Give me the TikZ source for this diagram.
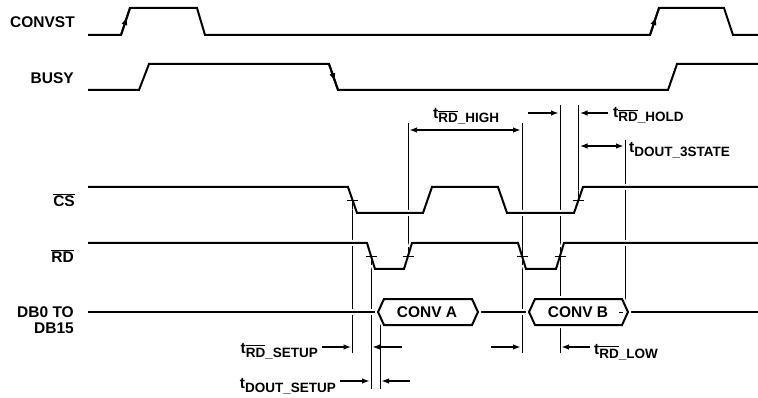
\documentclass[tikz,border=0pt]{standalone}
\usepackage{fontspec}
\setmainfont{Liberation Sans}
\usetikzlibrary{arrows.meta,decorations.markings}
\tikzset{>={Latex[length=8pt,width=5.5pt]}}
\newcommand{\ovl}[1]{\leavevmode\vbox{\hrule height 1.2pt\kern1.4pt\hbox{#1}}}
\newcommand{\tsub}[1]{t\raisebox{-4pt}{\fontsize{13.5}{14}\selectfont #1}}
\tikzset{
	sig/.style={line width=2pt, preaction={draw=white, line width=6pt}},
	guide/.style={line width=0.9pt},
	tickmark/.style={line width=0.9pt},
	meas/.style={line width=1.8pt},
	edgearrow/.style={line width=2pt, decoration={markings,
		mark=at position 0.7 with {\arrow{Latex[length=9pt,width=6pt]}}}, postaction={decorate}},
	lbl/.style={font=\fontsize{15.5}{17}\selectfont\bfseries, inner sep=0pt},
}

\begin{document}
\begin{tikzpicture}[x=1pt, y=-1pt]
	\useasboundingbox (0,0) rectangle (758,398);
	% crossing points on the edges
	\coordinate (cs1) at (352.5,200);
	\coordinate (cs2) at (578.5,200);
	\coordinate (rd1) at (371,256);
	\coordinate (rd2) at (408,256);
	\coordinate (rd3) at (522,256);
	\coordinate (rd4) at (560,256);
	\coordinate (dv) at (380,317);
	\coordinate (dz) at (625,305);
	% guide lines
	\draw[guide] (cs1) -- ++(0,153);
	\draw[guide] (rd1) -- ++(0,133);
	\draw[guide] (dv) -- (380,389);
	\draw[guide] (rd2) -- (408,123);
	\draw[guide] (522,123) -- (522,353);
	\draw[guide] (560,105) -- (560,353);
	\draw[guide] (cs2) -- (578.5,105);
	\draw[guide] (625,140) -- (dz);
	% signals
	\draw[sig] (88,35)--(121,35)--(130,8)--(197,8)--(205,35)--(650,35)--(659,8)--(724,8)--(733,35)--(758,35);
	\draw[sig] (88,90)--(139,90)--(149,64)--(329,64)--(338,90)--(668,90)--(677,64)--(758,64);
	\draw[sig] (88,187)--(348,187)--(357,213)--(423,213)--(432,187)--(498,187)--(507,213)--(574,213)--(583,187)--(758,187);
	\draw[sig] (88,243)--(367,243)--(375,269)--(404,269)--(412,243)--(518,243)--(526,269)--(556,269)--(564,243)--(758,243);
	\draw[sig] (88,312)--(378,312) (478,312)--(529,312) (628,312)--(758,312);
	\draw[sig, fill=white] (378,312)--(384,299)--(472,299)--(478,312)--(472,325)--(384,325)--cycle;
	\draw[sig, fill=white] (529,312)--(535,299)--(622,299)--(628,312)--(622,325)--(535,325)--cycle;
	\draw[tickmark] (619,312) -- (623,312);
	% trigger edges
	\draw[edgearrow] (121,35) -- (130,8);
	\draw[edgearrow] (650,35) -- (659,8);
	\draw[edgearrow] (329,64) -- (338,90);
	% guides again near the edges, and the ticks
	\foreach \c/\a/\b in {cs1/0/9, cs2/-9/0, rd1/0/9, rd2/-9/0, rd3/-9/9, rd4/-9/9}{
		\draw[guide] (\c) ++(0,\a) -- ++(0,{\b-\a});
		\draw[tickmark] (\c) ++(-5.5,0) -- ++(11,0);
	}
	% timing arrows
	\draw[meas, <->] (409,130) -- (521,130);
	\draw[meas, ->] (528,113) -- (559,113);
	\draw[meas, ->] (608,113) -- (579.5,113);
	\draw[meas, <->] (579.5,146) -- (624,146);
	\draw[meas, ->] (491,347) -- (521,347);
	\draw[meas, ->] (590,347) -- (561,347);
	\draw[meas, ->] (322,347) -- (351.5,347);
	\draw[meas, ->] (402,347) -- (372,347);
	\draw[meas, ->] (340,381) -- (370,381);
	\draw[meas, ->] (410,381) -- (381,381);
	% labels
	\node[lbl, anchor=base east] (convst) at (75,28) {CONVST};
	\node[lbl, anchor=base east] (busy) at (74,84) {BUSY};
	\node[lbl, anchor=base east] (cs) at (75,207) {\ovl{CS}};
	\node[lbl, anchor=base east] (rd) at (74,263) {\ovl{RD}};
	\node[lbl, anchor=base east] (db) at (74,317) {DB0 TO};
	\node[lbl, anchor=base east] (dbb) at (74,334) {DB15};
	\node[lbl] (conva) at (427,312) {CONV A};
	\node[lbl] (convb) at (578,312) {CONV B};
	\node[lbl, anchor=base west] (trdhigh) at (433,119) {\tsub{\ovl{RD}\_HIGH}};
	\node[lbl, anchor=base west] (trdhold) at (613,118) {\tsub{\ovl{RD}\_HOLD}};
	\node[lbl, anchor=base west] (tdout3) at (629,153) {\tsub{DOUT\_3STATE}};
	\node[lbl, anchor=base west] (trdlow) at (594,354) {\tsub{\ovl{RD}\_LOW}};
	\node[lbl, anchor=base east] (trdsetup) at (318,353) {\tsub{\ovl{RD}\_SETUP}};
	\node[lbl, anchor=base east] (tdoutsetup) at (336,388) {\tsub{DOUT\_SETUP}};
\end{tikzpicture}
\end{document}
